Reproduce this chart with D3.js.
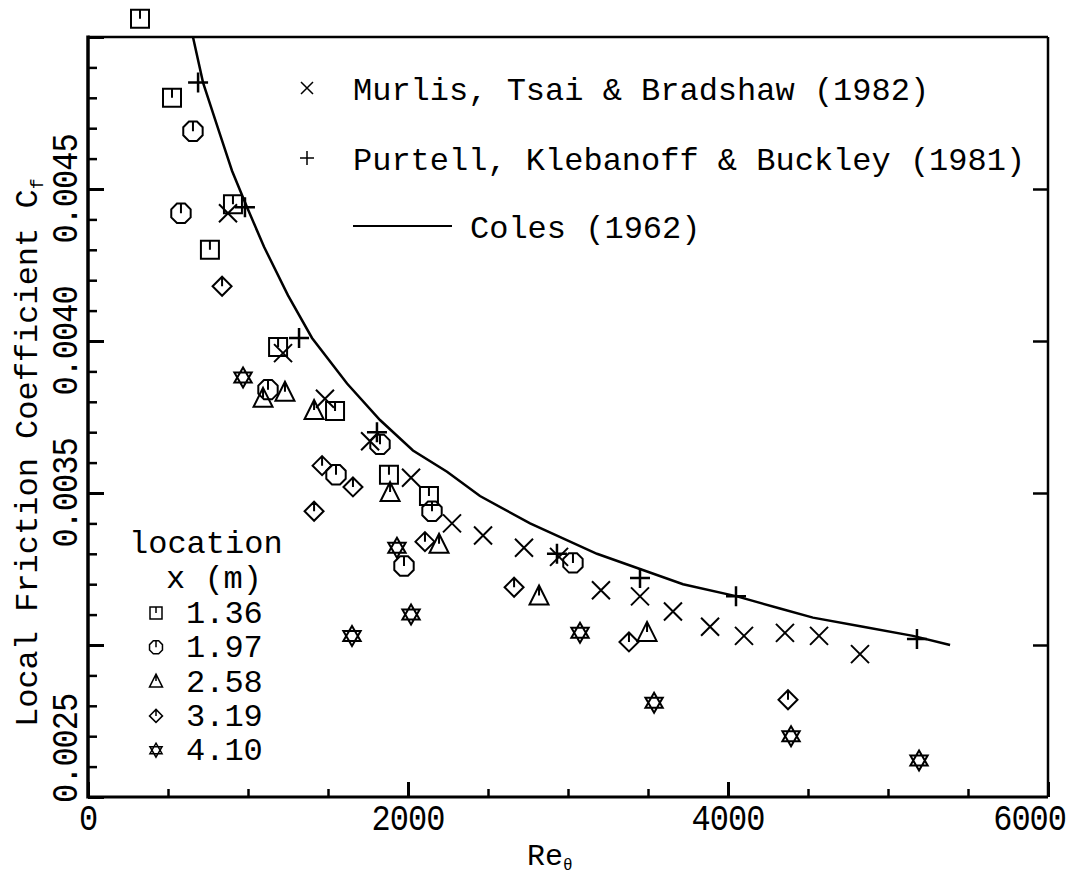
<!DOCTYPE html>
<html><head><meta charset="utf-8">
<script src="https://cdn.jsdelivr.net/npm/d3@7"></script>
<style>
html,body{margin:0;padding:0;background:#fff;}
svg text{font-family:"Liberation Mono","DejaVu Sans Mono",monospace;fill:#000;}
</style></head>
<body>
<svg id="chart" width="1075" height="877"></svg>
<script>
// ---- data ----
const x136Re = [325, 525, 906, 762, 1188, 1544, 1881, 2131];
const x136Cf = [0.00506, 0.00480, 0.00445, 0.00430, 0.00398, 0.00377, 0.00356, 0.00349];
const x197Re = [656, 581, 1125, 1825, 1550, 2150, 1975, 3031];
const x197Cf = [0.00469, 0.00442, 0.00384, 0.00366, 0.00356, 0.00344, 0.00326, 0.00327];
const x258Re = [1094, 1231, 1413, 1888, 2194, 2819, 3494];
const x258Cf = [0.00381, 0.00383, 0.00377, 0.00350, 0.00333, 0.00316, 0.00304];
const x319Re = [838, 1463, 1656, 1413, 2106, 2663, 3381, 4375];
const x319Cf = [0.00418, 0.00359, 0.00352, 0.00344, 0.00334, 0.00319, 0.00301, 0.00282];
const x410Re = [969, 1931, 1650, 2019, 3075, 3538, 4394, 5194];
const x410Cf = [0.00388, 0.00332, 0.00303, 0.00310, 0.00304, 0.00281, 0.00270, 0.00262];
const murlisRe = [875, 1219, 1481, 1763, 2019, 2275, 2469, 2725, 2944, 3206, 3450, 3656, 3888, 4100, 4356, 4569, 4825];
const murlisCf = [0.00442, 0.00396, 0.00381, 0.00367, 0.00355, 0.00340, 0.00336, 0.00332, 0.00329, 0.00318, 0.00316, 0.00311, 0.00306, 0.00303, 0.00304, 0.00303, 0.00297];
const purtellRe = [688, 981, 1319, 1806, 2931, 3450, 4050, 5181];
const purtellCf = [0.00485, 0.00444, 0.00401, 0.00370, 0.00330, 0.00322, 0.00316, 0.00302];
const colesRe = [656, 719, 825, 900, 994, 1100, 1250, 1400, 1619, 1825, 2031, 2244, 2450, 2763, 3181, 3450, 3719, 4056, 4325, 4531, 4844, 5156, 5388];
const colesCf = [0.00500, 0.00485, 0.00468, 0.00456, 0.00444, 0.00431, 0.00415, 0.00401, 0.00386, 0.00374, 0.00364, 0.00357, 0.00349, 0.00340, 0.00330, 0.00325, 0.00320, 0.00316, 0.00312, 0.00309, 0.00306, 0.00303, 0.00300];
const xMajor = [0, 2000, 4000, 6000];
const xMinor = [500, 1000, 1500, 2500, 3000, 3500, 4500, 5000, 5500];
const yMajor = [0.0025, 0.0030, 0.0035, 0.0040, 0.0045, 0.0050];
const yLabels = ["0.0045", "0.0040", "0.0035", "0.0025"];
const locLabels = ["1.36", "1.97", "2.58", "3.19", "4.10"];
const refLabels = ["Murlis, Tsai & Bradshaw (1982)", "Purtell, Klebanoff & Buckley (1981)", "Coles (1962)"];

// ---- layout ----
const L = 88, R = 1048, T = 37, B = 797;
const svg = d3.select("#chart");
const x = d3.scaleLinear().domain([0, 6000]).range([L, R]);
const y = d3.scaleLinear().domain([0.0025, 0.0050]).range([B, T]);

// minor y ticks every 0.0001
const yMinor = d3.range(26).map(i => 0.0025 + i * 0.0001).filter(v => !yMajor.some(m => Math.abs(m - v) < 1e-9));

function axisStyle(g, w) {
  g.select(".domain").remove();
  g.selectAll("line").attr("stroke", "#000").attr("stroke-width", w);
  g.selectAll("text").remove();
}
// left axis ticks (inward)
svg.append("g").attr("transform", `translate(${L},0)`)
  .call(d3.axisRight(y).tickValues(yMajor).tickSize(16).tickFormat(""))
  .call(g => axisStyle(g, 3));
svg.append("g").attr("transform", `translate(${L},0)`)
  .call(d3.axisRight(y).tickValues(yMinor).tickSize(9).tickFormat(""))
  .call(g => axisStyle(g, 2.5));
// right axis ticks (inward, major only)
svg.append("g").attr("transform", `translate(${R},0)`)
  .call(d3.axisLeft(y).tickValues([0.0030, 0.0035, 0.0040, 0.0045]).tickSize(15).tickFormat(""))
  .call(g => axisStyle(g, 2.5));
// bottom axis ticks
svg.append("g").attr("transform", `translate(0,${B})`)
  .call(d3.axisTop(x).tickValues(xMajor).tickSize(15).tickFormat(""))
  .call(g => axisStyle(g, 3));
svg.append("g").attr("transform", `translate(0,${B})`)
  .call(d3.axisTop(x).tickValues(xMinor).tickSize(8).tickFormat(""))
  .call(g => axisStyle(g, 2.5));

// frame
svg.append("line").attr("x1", L).attr("x2", R).attr("y1", T).attr("y2", T).attr("stroke", "#000").attr("stroke-width", 2.5);
svg.append("line").attr("x1", R).attr("x2", R).attr("y1", T).attr("y2", B).attr("stroke", "#000").attr("stroke-width", 2.5);
svg.append("line").attr("x1", L).attr("x2", R).attr("y1", B).attr("y2", B).attr("stroke", "#000").attr("stroke-width", 3);
svg.append("line").attr("x1", L).attr("x2", L).attr("y1", T - 1.5).attr("y2", B + 1.5).attr("stroke", "#000").attr("stroke-width", 3.5);

// x tick labels
xMajor.forEach(v => {
  const px = x(v);
  svg.append("text").attr("font-size", 32)
    .attr("transform", `translate(${v === 6000 ? 1066 : px},830) scale(1,1.15)`)
    .attr("text-anchor", v === 6000 ? "end" : "middle").attr("letter-spacing", -1)
    .text(String(v));
});
// y tick labels (rotated)
const yLabelVals = [0.0045, 0.0040, 0.0035];
yLabelVals.forEach((v, i) => {
  svg.append("text").attr("font-size", 32)
    .attr("transform", `translate(77,${y(v)}) rotate(-90) scale(1,1.15)`)
    .attr("text-anchor", "middle").attr("letter-spacing", -1)
    .text(yLabels[i]);
});
svg.append("text").attr("font-size", 32)
  .attr("transform", `translate(77,803) rotate(-90) scale(1,1.15)`)
  .attr("text-anchor", "start").attr("letter-spacing", -1)
  .text(yLabels[3]);

// axis titles
const yt = svg.append("text").attr("font-size", 32)
  .attr("transform", "translate(37,727) rotate(-90)").attr("text-anchor", "start");
yt.append("tspan").text("Local Friction Coefficient  C");
yt.append("tspan").attr("font-size", 18).attr("dy", 6).text("f");
const xt = svg.append("text").attr("font-size", 30).attr("x", 527).attr("y", 865).attr("text-anchor", "start");
xt.append("tspan").text("Re");
xt.append("tspan").attr("font-size", 16).attr("dy", 5).text("θ");

// ---- marker shapes ----
function sqPath(s) { const p = d3.path(); p.rect(-s, -s, 2 * s, 2 * s); p.moveTo(0, -s); p.lineTo(0, 0); return p.toString(); }
function octPath(r) {
  const p = d3.path();
  for (let i = 0; i < 8; i++) {
    const a = Math.PI / 8 + i * Math.PI / 4;
    const px = r * Math.cos(a), py = r * Math.sin(a);
    if (i === 0) p.moveTo(px, py); else p.lineTo(px, py);
  }
  p.closePath();
  p.moveTo(0, -r * Math.cos(Math.PI / 8)); p.lineTo(0, 0);
  return p.toString();
}
function triPath(s) { const p = d3.path(); p.moveTo(0, -1.15 * s); p.lineTo(s, 0.85 * s); p.lineTo(-s, 0.85 * s); p.closePath(); p.moveTo(0, -1.15 * s); p.lineTo(0, -0.1 * s); return p.toString(); }
function diaPath(s) { const p = d3.path(); p.moveTo(0, -s); p.lineTo(s, 0); p.lineTo(0, s); p.lineTo(-s, 0); p.closePath(); p.moveTo(0, -s); p.lineTo(0, 0); return p.toString(); }
function starPath(s) {
  const p = d3.path(); const h = s * 0.866;
  p.moveTo(0, -s); p.lineTo(h, s / 2); p.lineTo(-h, s / 2); p.closePath();
  p.moveTo(0, s); p.lineTo(h, -s / 2); p.lineTo(-h, -s / 2); p.closePath();
  return p.toString();
}
function xPath(s) { const p = d3.path(); p.moveTo(-s, -s); p.lineTo(s, s); p.moveTo(-s, s); p.lineTo(s, -s); return p.toString(); }
function plusPath(s) { const p = d3.path(); p.moveTo(-s, 0); p.lineTo(s, 0); p.moveTo(0, -s); p.lineTo(0, s); return p.toString(); }

const sets = [
  { re: x136Re, cf: x136Cf, d: sqPath(9), ld: sqPath(6) },
  { re: x197Re, cf: x197Cf, d: octPath(10.5), ld: octPath(7) },
  { re: x258Re, cf: x258Cf, d: triPath(9.5), ld: triPath(6.5) },
  { re: x319Re, cf: x319Cf, d: diaPath(9.5), ld: diaPath(6.5) },
  { re: x410Re, cf: x410Cf, d: starPath(10), ld: starPath(7) }
];

// Coles curve
const lineGen = d3.line().x(d => x(d[0])).y(d => y(d[1]));
svg.append("path").datum(colesRe.map((r, i) => [r, colesCf[i]]))
  .attr("d", lineGen).attr("fill", "none").attr("stroke", "#000").attr("stroke-width", 2.5);

function drawMarks(re, cf, d, w) {
  svg.append("g").selectAll("path").data(re.map((r, i) => [r, cf[i]])).join("path")
    .attr("transform", v => `translate(${x(v[0])},${y(v[1])})`)
    .attr("d", d).attr("fill", "none").attr("stroke", "#000").attr("stroke-width", w);
}
sets.forEach(s => drawMarks(s.re, s.cf, s.d, 2));
drawMarks(murlisRe, murlisCf, xPath(9), 2);
drawMarks(purtellRe, purtellCf, plusPath(10), 2.5);

// ---- legends ----
svg.append("path").attr("transform", "translate(307,88)").attr("d", xPath(6)).attr("fill", "none").attr("stroke", "#000").attr("stroke-width", 1.5);
svg.append("path").attr("transform", "translate(307,158)").attr("d", plusPath(7)).attr("fill", "none").attr("stroke", "#000").attr("stroke-width", 1.5);
svg.append("line").attr("x1", 353).attr("x2", 452).attr("y1", 226).attr("y2", 226).attr("stroke", "#000").attr("stroke-width", 2);
svg.append("text").attr("font-size", 32).attr("x", 353).attr("y", 100).text(refLabels[0]);
svg.append("text").attr("font-size", 32).attr("x", 353).attr("y", 170).text(refLabels[1]);
svg.append("text").attr("font-size", 32).attr("x", 470).attr("y", 238).text(refLabels[2]);

svg.append("text").attr("font-size", 32).attr("x", 129).attr("y", 553).text("location");
svg.append("text").attr("font-size", 32).attr("x", 166).attr("y", 588).text("x (m)");
locLabels.forEach((lab, i) => {
  const cy = 613 + i * 34.3;
  svg.append("path").attr("transform", `translate(156,${cy})`).attr("d", sets[i].ld)
    .attr("fill", "none").attr("stroke", "#000").attr("stroke-width", 1.5);
  svg.append("text").attr("font-size", 32).attr("x", 186).attr("y", cy + 10).text(lab);
});
</script>
</body></html>
